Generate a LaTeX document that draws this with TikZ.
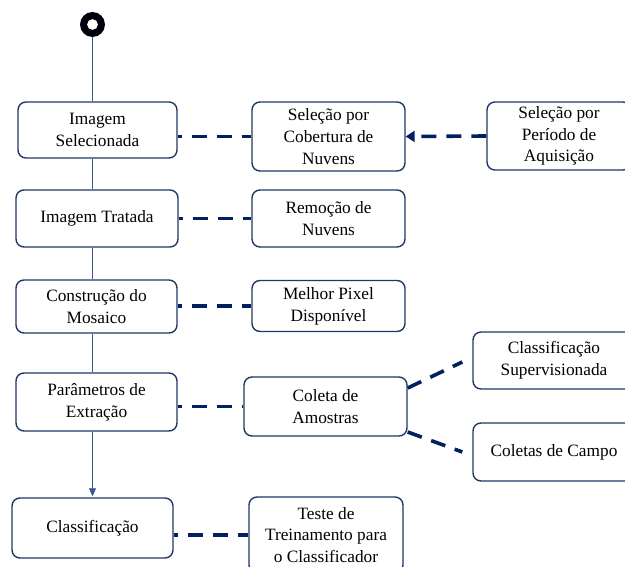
\documentclass[tikz,border=0pt]{standalone}
\usepackage{fontspec}
\setmainfont{Liberation Serif}
\newfontfamily\timesfont{Liberation Serif}
\usetikzlibrary{calc,arrows.meta}
\definecolor{boxline}{RGB}{31,56,100}
\definecolor{dashline}{RGB}{0,32,96}
\definecolor{flowline}{RGB}{60,85,150}
\begin{document}
\begin{tikzpicture}[x=1pt,y=1pt,
  box/.style={draw=boxline,line width=1.4pt,rounded corners=8pt,fill=white,
    align=center,inner sep=0pt,font=\timesfont\fontsize{17.3}{21.7}\selectfont},
  dashlink/.style={draw=dashline,line width=3.6pt,dash pattern=on 15pt off 10pt,dash phase=11pt},
  flow/.style={draw=flowline,line width=0.8pt}]
\useasboundingbox (0,0) rectangle (625,-567);
% start marker
\draw[fill=black!95!blue,draw=none,even odd rule] (92.5,-24.5) circle (12.5) circle (5.5);
\coordinate (start) at (92.5,-37);
% left column
\node[box,minimum width=159pt,minimum height=56pt] (b1) at (97.5,-130) {Imagem\\Selecionada};
\node[box,minimum width=162pt,minimum height=57pt] (b2) at (97,-218.5) {Imagem Tratada};
\node[box,minimum width=161pt,minimum height=53pt] (b3) at (96.5,-306.5) {Construção do\\Mosaico};
\node[box,minimum width=161pt,minimum height=58pt] (b4) at (96.5,-402) {Parâmetros de\\Extração};
\node[box,minimum width=161pt,minimum height=60pt] (b5) at (92.5,-528) {Classificação};
% middle column
\node[box,minimum width=153pt,minimum height=69pt] (cob) at (328.5,-136.5) {Seleção por\\Cobertura de\\Nuvens};
\node[box,minimum width=153pt,minimum height=57pt] (rem) at (328.5,-218.5) {Remoção de\\Nuvens};
\node[box,minimum width=153pt,minimum height=51pt] (mel) at (328.5,-306) {Melhor Pixel\\Disponível};
\node[box,minimum width=163pt,minimum height=59pt] (col) at (325.5,-406.5) {Coleta de\\Amostras};
\node[box,minimum width=154pt,minimum height=76pt] (tes) at (326,-535) {Teste de\\Treinamento para\\o Classificador};
% right column
\node[box,minimum width=144pt,minimum height=68pt] (per) at (559,-136) {Seleção por\\Período de\\Aquisição};
\node[box,minimum width=162pt,minimum height=57pt] (cs) at (554,-360.5) {Classificação\\Supervisionada};
\node[box,minimum width=162pt,minimum height=58pt] (cc) at (554,-452) {Coletas de Campo};
% flow line
\draw[flow] (start) -- (start |- b1.north);
\draw[flow] (start |- b1.south) -- (start |- b2.north);
\draw[flow] (start |- b2.south) -- (start |- b3.north);
\draw[flow] (start |- b3.south) -- (start |- b4.north);
\draw[flow,-{Triangle[length=8pt,width=7pt]}] (start |- b4.south) -- ($(start |- b5.north)+(0,1)$);
% dashed links
\draw[dashlink] (b1.east |- cob.west) -- (cob.west);
\draw[dashlink] (b2.east |- rem.west) -- (rem.west);
\draw[dashlink] (b3.east |- mel.west) -- (mel.west);
\draw[dashlink] (b4.east |- col.west) -- (col.west);
\draw[dashlink] (b5.east |- tes.west) -- (tes.west);
\draw[dashlink,dash phase=0pt,-{Triangle[length=9pt,width=11pt]}] (per.west) -- (cob.east);
\coordinate (c1) at ($(col.east)+(0,18.5)$);
\coordinate (c2) at ($(cs.west)+(-10,-1.5)$);
\coordinate (c3) at ($(col.east)+(0,-25.5)$);
\coordinate (c4) at ($(cc.west)+(-10,0)$);
\draw[dashlink,dash phase=0pt] (c1) -- (c2);
\draw[dashlink,dash phase=0pt] (c3) -- (c4);
\end{tikzpicture}
\end{document}
